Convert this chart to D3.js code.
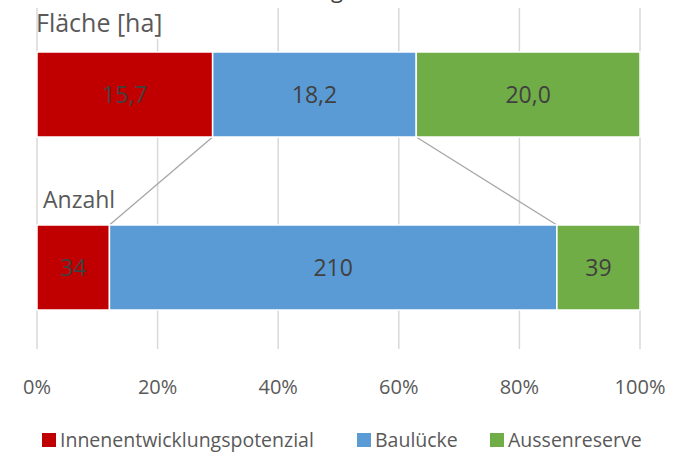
<!DOCTYPE html>
<html>
<head>
<meta charset="utf-8">
<script src="https://cdn.jsdelivr.net/npm/d3@7"></script>
<style>
  body { margin: 0; background: #fff; }
  text { font-family: "Open Sans", sans-serif; }
</style>
</head>
<body>
<div id="chart"></div>
<script>
const width = 674, height = 453;

// data
const categories = ["Fläche [ha]", "Anzahl"];
const series = ["Innenentwicklungspotenzial", "Baulücke", "Aussenreserve"];
const flaeche = [15.7, 18.2, 20.0];
const anzahl = [34, 210, 39];
const tickValues = [0, 0.2, 0.4, 0.6, 0.8, 1];
const colors = ["#C00000", "#5B9BD5", "#70AD47"];

const svg = d3.select("#chart")
    .append("svg")
    .attr("width", width)
    .attr("height", height);

const x = d3.scaleLinear().domain([0, 1]).range([37, 640]);

const fmt = (v, i) => i === 0 ? d3.format(".1f")(v).replace(".", ",") : String(v);

// stack rows as shares
const rows = [flaeche, anzahl].map((vals, r) => {
    const total = d3.sum(vals);
    let acc = 0;
    return vals.map((v, i) => {
        const s = { row: r, i: i, v: v, x0: acc / total, x1: (acc + v) / total };
        acc += v;
        return s;
    });
});

// gridlines
svg.selectAll(".grid")
    .data(tickValues)
    .enter()
    .append("line")
    .attr("x1", d => x(d)).attr("x2", d => x(d))
    .attr("y1", 8).attr("y2", 349)
    .attr("stroke", "#d9d9d9")
    .attr("stroke-width", 1.5);

// title, cut off by the top edge (only a descender shows)
svg.append("text")
    .attr("x", 337).attr("y", -2)
    .attr("text-anchor", "middle")
    .attr("font-size", 22)
    .attr("fill", "#404040")
    .text("g");

const barH = 85;
const barY = [52, 225];

// connector lines between rows
const rowTop = rows[0], rowBot = rows[1];
[0, 1].forEach(k => {
    svg.append("line")
        .attr("x1", x(rowTop[k].x1)).attr("y1", barY[0] + barH)
        .attr("x2", x(rowBot[k].x1)).attr("y2", barY[1])
        .attr("stroke", "#a6a6a6").attr("stroke-width", 1.3);
});

// category labels
svg.append("rect")
    .attr("x", 39).attr("y", 8).attr("width", 132).attr("height", 31)
    .attr("fill", "#fff");
svg.append("text")
    .attr("x", 36).attr("y", 32)
    .attr("font-size", 25).attr("fill", "#595959")
    .text(categories[0]);
svg.append("text")
    .attr("x", 43).attr("y", 208)
    .attr("font-size", 23).attr("fill", "#595959")
    .text(categories[1]);

// bars
rows.forEach((row, r) => {
    const g = svg.append("g");
    g.selectAll("rect")
        .data(row)
        .enter()
        .append("rect")
        .attr("x", d => x(d.x0))
        .attr("y", barY[r])
        .attr("width", d => x(d.x1) - x(d.x0))
        .attr("height", barH)
        .attr("fill", d => colors[d.i])
        .attr("stroke", "#fff")
        .attr("stroke-width", 1.5);
    g.selectAll("text")
        .data(row)
        .enter()
        .append("text")
        .attr("x", d => (x(d.x0) + x(d.x1)) / 2)
        .attr("y", barY[r] + barH / 2)
        .attr("dy", "0.35em")
        .attr("text-anchor", "middle")
        .attr("font-size", 23)
        .attr("fill", "#404040")
        .text(d => fmt(d.v, r));
});

// x axis tick labels
svg.selectAll(".tick-label")
    .data(tickValues)
    .enter()
    .append("text")
    .attr("x", d => x(d))
    .attr("y", 387)
    .attr("dy", "0.35em")
    .attr("text-anchor", "middle")
    .attr("font-size", 20)
    .attr("fill", "#595959")
    .text(d => d3.format(".0%")(d));

// legend
const legX = [42, 357, 490];
const leg = svg.selectAll(".legend")
    .data(series)
    .enter()
    .append("g")
    .attr("transform", (d, i) => `translate(${legX[i]},433)`);
leg.append("rect")
    .attr("width", 14).attr("height", 14)
    .attr("fill", (d, i) => colors[i]);
leg.append("text")
    .attr("x", 18).attr("y", 7)
    .attr("dy", "0.35em")
    .attr("font-size", 19.5)
    .attr("fill", "#595959")
    .text(d => d);
</script>
</body>
</html>
